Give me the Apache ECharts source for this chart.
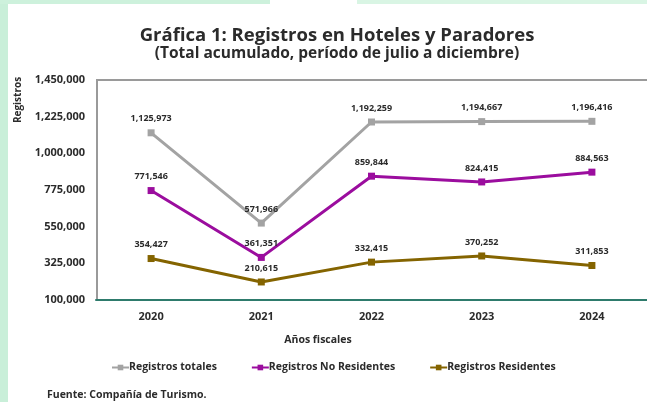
<!DOCTYPE html>
<html>
<head>
<meta charset="utf-8">
<script src="https://cdn.jsdelivr.net/npm/echarts@6/dist/echarts.min.js"></script>
<style>
  html, body { margin: 0; padding: 0; background: #fff; }
  #chart { width: 647px; height: 402px; }
</style>
</head>
<body>
<div id="chart"></div>
<script>
const years = ['2020', '2021', '2022', '2023', '2024']
const totales = [1125973, 571966, 1192259, 1194667, 1196416]
const noResidentes = [771546, 361351, 859844, 824415, 884563]
const residentes = [354427, 210615, 332415, 370252, 311853]

const font = '"Open Sans", sans-serif'
const textDark = '#2b2b2b'

const chart = echarts.init(document.getElementById('chart'))

const makeSeries = (name, data, color) => ({
  name,
  type: 'line',
  data,
  symbol: 'rect',
  symbolSize: 7,
  lineStyle: { width: 3, color },
  itemStyle: { color },
  label: {
    show: true,
    position: 'top',
    distance: 6,
    color: textDark,
    fontFamily: font,
    fontWeight: 'bold',
    fontSize: 9,
    formatter: (p) => p.value.toLocaleString('en-US')
  },
  animation: false
})

chart.setOption({
  backgroundColor: '#fff',
  textStyle: { fontFamily: font },
  graphic: [
    // mint background edges
    { type: 'rect', shape: { x: 0, y: 0, width: 8, height: 402 }, style: { fill: '#c9efd9' }, z: -10 },
    { type: 'rect', shape: { x: 0, y: 0, width: 270, height: 4 }, style: { fill: '#cdf1dc' }, z: -10 },
    { type: 'rect', shape: { x: 357, y: 0, width: 290, height: 4 }, style: { fill: '#d9f5e4' }, z: -10 },
    {
      type: 'text', x: 337, y: 36,
      style: { text: 'Gráfica 1: Registros en Hoteles y Paradores', fill: textDark, font: 'bold 18.5px "Open Sans"', align: 'center', verticalAlign: 'middle' }
    },
    {
      type: 'text', x: 337, y: 54,
      style: { text: '(Total acumulado, período de julio a diciembre)', fill: textDark, font: 'bold 15.5px "Open Sans"', align: 'center', verticalAlign: 'middle' }
    },
    {
      type: 'text', x: 18, y: 100, rotation: Math.PI / 2,
      style: { text: 'Registros', fill: textDark, font: 'bold 10px "Open Sans"', align: 'center', verticalAlign: 'middle' }
    },
    {
      type: 'text', x: 318, y: 340,
      style: { text: 'Años fiscales', fill: textDark, font: 'bold 10.5px "Open Sans"', align: 'center', verticalAlign: 'middle' }
    },
    {
      type: 'text', x: 47, y: 395,
      style: { text: 'Fuente: Compañía de Turismo.', fill: textDark, font: 'bold 10.5px "Open Sans"', verticalAlign: 'middle' }
    },
    // plot frame (top and left)
    { type: 'line', shape: { x1: 96, y1: 80, x2: 647, y2: 80 }, style: { stroke: '#9a9a9a', lineWidth: 2 } },
    { type: 'line', shape: { x1: 97, y1: 80, x2: 97, y2: 300 }, style: { stroke: '#9a9a9a', lineWidth: 2 } }
  ],
  legend: {
    top: 357,
    left: 106,
    itemWidth: 17,
    itemHeight: 7,
    itemGap: 34,
    textStyle: { color: textDark, fontFamily: font, fontWeight: 'bold', fontSize: 10.5, padding: [0, 0, 0, -5] },
    data: ['Registros totales', 'Registros No Residentes', 'Registros Residentes']
  },
  grid: { left: 96, top: 80, width: 557, height: 220 },
  xAxis: {
    type: 'category',
    data: years,
    axisLine: { lineStyle: { color: '#2e7b6c', width: 2 } },
    axisTick: { show: false },
    axisLabel: { color: textDark, fontFamily: font, fontWeight: 'bold', fontSize: 11, margin: 11 }
  },
  yAxis: {
    type: 'value',
    min: 100000,
    max: 1450000,
    interval: 225000,
    splitLine: { show: false },
    axisLine: { show: false },
    axisTick: { show: false },
    axisLabel: {
      color: textDark, fontFamily: font, fontWeight: 'bold', fontSize: 11, margin: 11,
      formatter: (v) => v.toLocaleString('en-US')
    }
  },
  series: [
    makeSeries('Registros totales', totales, '#a3a3a3'),
    makeSeries('Registros No Residentes', noResidentes, '#9b0d9e'),
    makeSeries('Registros Residentes', residentes, '#846400')
  ]
})
</script>
</body>
</html>
